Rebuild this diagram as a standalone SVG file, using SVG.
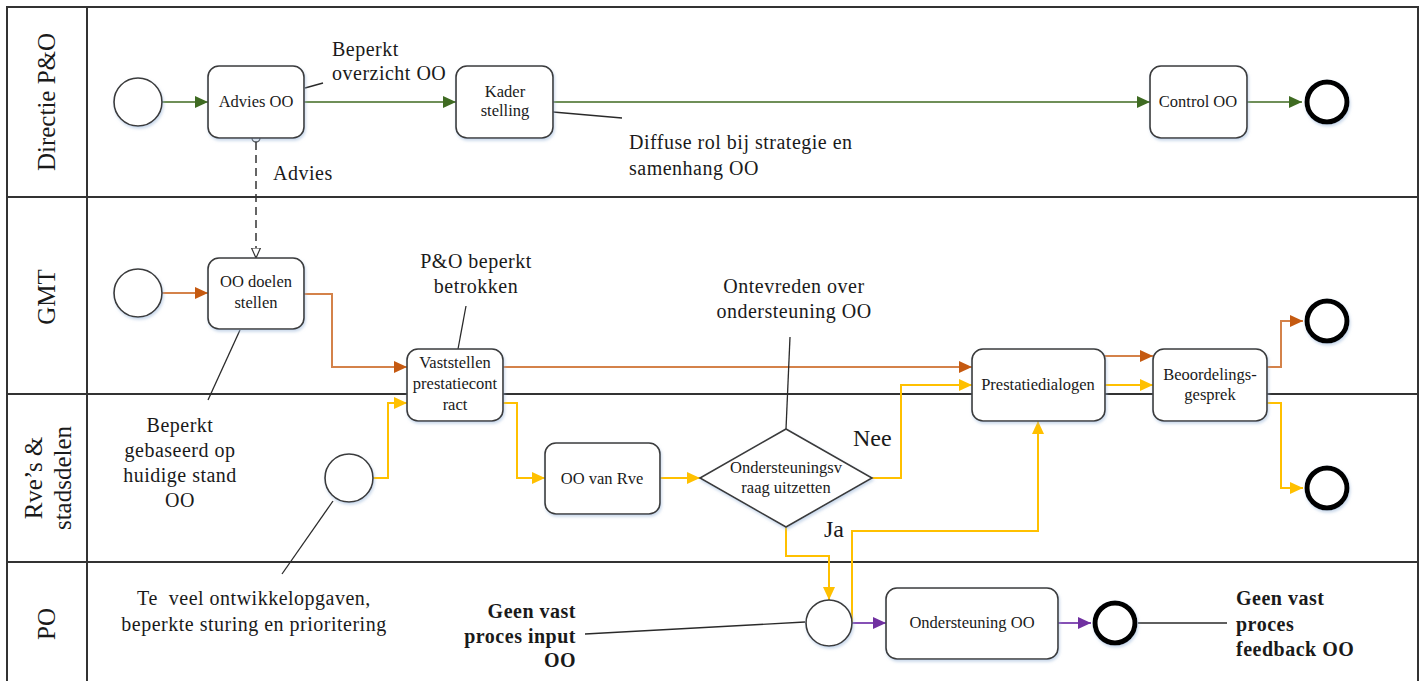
<svg xmlns="http://www.w3.org/2000/svg" width="1422" height="681" viewBox="0 0 1422 681">
  <style>
    .pool { fill: #ffffff; stroke: #333333; stroke-width: 2; }
    .lane { stroke: #333333; stroke-width: 2; fill: none; }
    .lanelabel { font-family: "Liberation Serif", "Times New Roman", serif; font-size: 25px; fill: #1a1a1a; text-anchor: middle; }
    .task { fill: #ffffff; stroke: #3a3a3a; stroke-width: 1.6; filter: url(#shadow); }
    .start { fill: #ffffff; stroke: #3a3a3a; stroke-width: 1.6; filter: url(#shadow); }
    .end { fill: #ffffff; stroke: #000000; stroke-width: 5; filter: url(#shadow); }
    .tt { font-family: "Liberation Serif", "Times New Roman", serif; font-size: 16.5px; fill: #1a1a1a; text-anchor: middle; }
    .note { font-family: "Liberation Serif", "Times New Roman", serif; font-size: 20px; fill: #1a1a1a; letter-spacing: 0.5px; }
    .noteb { font-family: "Liberation Serif", "Times New Roman", serif; font-size: 20px; font-weight: bold; fill: #1a1a1a; letter-spacing: 0.5px; }
    .lbl { font-family: "Liberation Serif", "Times New Roman", serif; font-size: 24px; fill: #1a1a1a; }
    .assoc { stroke: #2a2a2a; stroke-width: 1.3; fill: none; }
    .green { stroke: #6f8f58; stroke-width: 2; fill: none; marker-end: url(#arrGreen); }
    .orange { stroke: #d4824a; stroke-width: 2; fill: none; marker-end: url(#arrOrange); }
    .yellow { stroke: #ffc000; stroke-width: 2; fill: none; marker-end: url(#arrYellow); }
    .purple { stroke: #8550b5; stroke-width: 2; fill: none; marker-end: url(#arrPurple); }
    .dashed { stroke: #333333; stroke-width: 1.5; stroke-dasharray: 8 5; fill: none; marker-end: url(#arrOpen); }
  </style>
  <defs>
    <filter id="shadow" x="-20%" y="-20%" width="140%" height="150%">
      <feDropShadow dx="1" dy="2" stdDeviation="1.5" flood-color="#9bb7d9" flood-opacity="0.55"/>
    </filter>
    <marker id="arrGreen" markerUnits="userSpaceOnUse" markerWidth="14" markerHeight="12" refX="13" refY="6" orient="auto">
      <path d="M0,0 L13,6 L0,12 z" fill="#3f6b22"/>
    </marker>
    <marker id="arrOrange" markerUnits="userSpaceOnUse" markerWidth="14" markerHeight="12" refX="13" refY="6" orient="auto">
      <path d="M0,0 L13,6 L0,12 z" fill="#c55a11"/>
    </marker>
    <marker id="arrYellow" markerUnits="userSpaceOnUse" markerWidth="14" markerHeight="12" refX="13" refY="6" orient="auto">
      <path d="M0,0 L13,6 L0,12 z" fill="#ffc000"/>
    </marker>
    <marker id="arrPurple" markerUnits="userSpaceOnUse" markerWidth="14" markerHeight="12" refX="13" refY="6" orient="auto">
      <path d="M0,0 L13,6 L0,12 z" fill="#7030a0"/>
    </marker>
    <marker id="arrOpen" markerUnits="userSpaceOnUse" markerWidth="12" markerHeight="10" refX="10.5" refY="5" orient="auto">
      <path d="M0.5,0.5 L10.5,5 L0.5,9.5 z" fill="#ffffff" stroke="#333333" stroke-width="1.2"/>
    </marker>
  </defs>

  <!-- pool and lanes -->
  <g id="pool">
    <rect class="pool" x="7" y="7" width="1411" height="690"/>
    <line class="lane" x1="87" y1="7" x2="87" y2="697"/>
    <line class="lane" x1="7" y1="197" x2="1418" y2="197"/>
    <line class="lane" x1="7" y1="394" x2="1418" y2="394"/>
    <line class="lane" x1="7" y1="562" x2="1418" y2="562"/>
    <text class="lanelabel" transform="translate(55,102) rotate(-90)">Directie P&amp;O</text>
    <text class="lanelabel" transform="translate(55,297) rotate(-90)">GMT</text>
    <text class="lanelabel" transform="translate(42,478) rotate(-90)">Rve’s &amp;</text>
    <text class="lanelabel" transform="translate(71,478) rotate(-90)">stadsdelen</text>
    <text class="lanelabel" transform="translate(55,624) rotate(-90)">PO</text>
  </g>

  <!-- connectors -->
  <g id="connectors">
    <!-- Directie P&O -->
    <path class="green" d="M162,102 L208,102"/>
    <path class="green" d="M304,102 L456,102"/>
    <path class="green" d="M553,102 L1150,102"/>
    <path class="green" d="M1247,102 L1302,102"/>
    <!-- association Advies OO -> OO doelen stellen -->
    <path class="dashed" d="M256,142 L256,258"/>
    <circle cx="256" cy="138" r="4" fill="#ffffff" stroke="#333333" stroke-width="1.3"/>
    <!-- GMT -->
    <path class="orange" d="M162,293 L208,293"/>
    <path class="orange" d="M304,294 L332,294 L332,367 L407,367"/>
    <path class="orange" d="M503,367 L972,367"/>
    <path class="orange" d="M1105,356 L1153,356"/>
    <path class="orange" d="M1267,367 L1281,367 L1281,321 L1303,321"/>
    <!-- Rve's & stadsdelen -->
    <path class="yellow" d="M373,478 L388,478 L388,403 L407,403"/>
    <path class="yellow" d="M503,403 L517,403 L517,478 L545,478"/>
    <path class="yellow" d="M660,478 L700,478"/>
    <path class="yellow" d="M872,478 L901,478 L901,385 L972,385"/>
    <path class="yellow" d="M1105,385 L1153,385"/>
    <path class="yellow" d="M1267,403 L1281,403 L1281,488 L1303,488"/>
    <path class="yellow" d="M786,527 L786,556 L829,556 L829,600"/>
    <path class="yellow" d="M852,623 L852,531 L1038,531 L1038,421"/>
    <!-- PO -->
    <path class="purple" d="M852,623 L886,623"/>
    <path class="purple" d="M1058,623 L1091,623"/>
    <!-- annotation leaders -->
    <path class="assoc" d="M305,88 L323,83"/>
    <path class="assoc" d="M553,112 L622,118"/>
    <path class="assoc" d="M240,330 L208,400"/>
    <path class="assoc" d="M466,306 L458,349"/>
    <path class="assoc" d="M790,337 L786,429"/>
    <path class="assoc" d="M333,501 L282,574"/>
    <path class="assoc" d="M805,622 L585,634"/>
    <path class="assoc" d="M1138,623 L1227,623"/>
  </g>

  <!-- Directie P&O nodes -->
  <g id="start-directie"><circle class="start" cx="138" cy="102" r="24"/></g>
  <g id="advies-oo">
    <rect class="task" x="208" y="66" width="96" height="72" rx="11"/>
    <text class="tt" x="256" y="107">Advies OO</text>
  </g>
  <g id="kaderstelling">
    <rect class="task" x="456" y="66" width="97" height="72" rx="11"/>
    <text class="tt" x="505" y="97">Kader</text>
    <text class="tt" x="505" y="116">stelling</text>
  </g>
  <g id="control-oo">
    <rect class="task" x="1150" y="66" width="97" height="72" rx="11"/>
    <text class="tt" x="1198" y="107">Control OO</text>
  </g>
  <g id="end-directie"><circle class="end" cx="1327" cy="102" r="20"/></g>

  <!-- GMT nodes -->
  <g id="start-gmt"><circle class="start" cx="138" cy="293" r="24"/></g>
  <g id="oo-doelen-stellen">
    <rect class="task" x="208" y="258" width="96" height="71" rx="11"/>
    <text class="tt" x="256" y="287">OO doelen</text>
    <text class="tt" x="256" y="308">stellen</text>
  </g>
  <g id="vaststellen-prestatiecontract">
    <rect class="task" x="407" y="349" width="96" height="72" rx="11"/>
    <text class="tt" x="455" y="368">Vaststellen</text>
    <text class="tt" x="455" y="389">prestatiecont</text>
    <text class="tt" x="455" y="410">ract</text>
  </g>
  <g id="prestatiedialogen">
    <rect class="task" x="972" y="349" width="133" height="72" rx="11"/>
    <text class="tt" x="1038" y="390">Prestatiedialogen</text>
  </g>
  <g id="beoordelingsgesprek">
    <rect class="task" x="1153" y="349" width="114" height="72" rx="11"/>
    <text class="tt" x="1210" y="380">Beoordelings-</text>
    <text class="tt" x="1210" y="400">gesprek</text>
  </g>
  <g id="end-gmt"><circle class="end" cx="1327" cy="321" r="20"/></g>

  <!-- Rve's & stadsdelen nodes -->
  <g id="start-rve"><circle class="start" cx="349" cy="478" r="24"/></g>
  <g id="oo-van-rve">
    <rect class="task" x="545" y="443" width="115" height="71" rx="11"/>
    <text class="tt" x="602" y="484">OO van Rve</text>
  </g>
  <g id="ondersteuningsvraag">
    <path class="task" d="M786,429 L872,478 L786,527 L700,478 z"/>
    <text class="tt" x="786" y="473">Ondersteuningsv</text>
    <text class="tt" x="786" y="493">raag uitzetten</text>
  </g>
  <g id="end-rve"><circle class="end" cx="1327" cy="488" r="20"/></g>

  <!-- PO nodes -->
  <g id="start-po"><circle class="start" cx="829" cy="623" r="23"/></g>
  <g id="ondersteuning-oo">
    <rect class="task" x="886" y="588" width="172" height="71" rx="11"/>
    <text class="tt" x="972" y="628">Ondersteuning OO</text>
  </g>
  <g id="end-po"><circle class="end" cx="1115" cy="623" r="20"/></g>

  <!-- gateway labels -->
  <g id="gateway-labels">
    <text class="lbl" x="853" y="446">Nee</text>
    <text class="lbl" x="824" y="537">Ja</text>
    <text class="note" x="273" y="180">Advies</text>
  </g>

  <!-- annotations -->
  <g id="annotations">
    <text class="note" x="332" y="56">Beperkt</text>
    <text class="note" x="332" y="80">overzicht OO</text>
    <text class="note" x="629" y="149">Diffuse rol bij strategie en</text>
    <text class="note" x="629" y="175">samenhang OO</text>
    <text class="note" text-anchor="middle" x="476" y="268">P&amp;O beperkt</text>
    <text class="note" text-anchor="middle" x="476" y="293">betrokken</text>
    <text class="note" text-anchor="middle" x="794" y="293">Ontevreden over</text>
    <text class="note" text-anchor="middle" x="794" y="318">ondersteuning OO</text>
    <text class="note" text-anchor="middle" x="180" y="432">Beperkt</text>
    <text class="note" text-anchor="middle" x="180" y="457">gebaseerd op</text>
    <text class="note" text-anchor="middle" x="180" y="482">huidige stand</text>
    <text class="note" text-anchor="middle" x="180" y="507">OO</text>
    <text class="note" text-anchor="middle" x="254" y="605">Te&#160; veel ontwikkelopgaven,</text>
    <text class="note" text-anchor="middle" x="254" y="631">beperkte sturing en prioritering</text>
    <text class="noteb" text-anchor="end" x="576" y="618">Geen vast</text>
    <text class="noteb" text-anchor="end" x="576" y="643">proces input</text>
    <text class="noteb" text-anchor="end" x="576" y="667">OO</text>
    <text class="noteb" x="1236" y="605">Geen vast</text>
    <text class="noteb" x="1236" y="631">proces</text>
    <text class="noteb" x="1236" y="656">feedback OO</text>
  </g>
</svg>
